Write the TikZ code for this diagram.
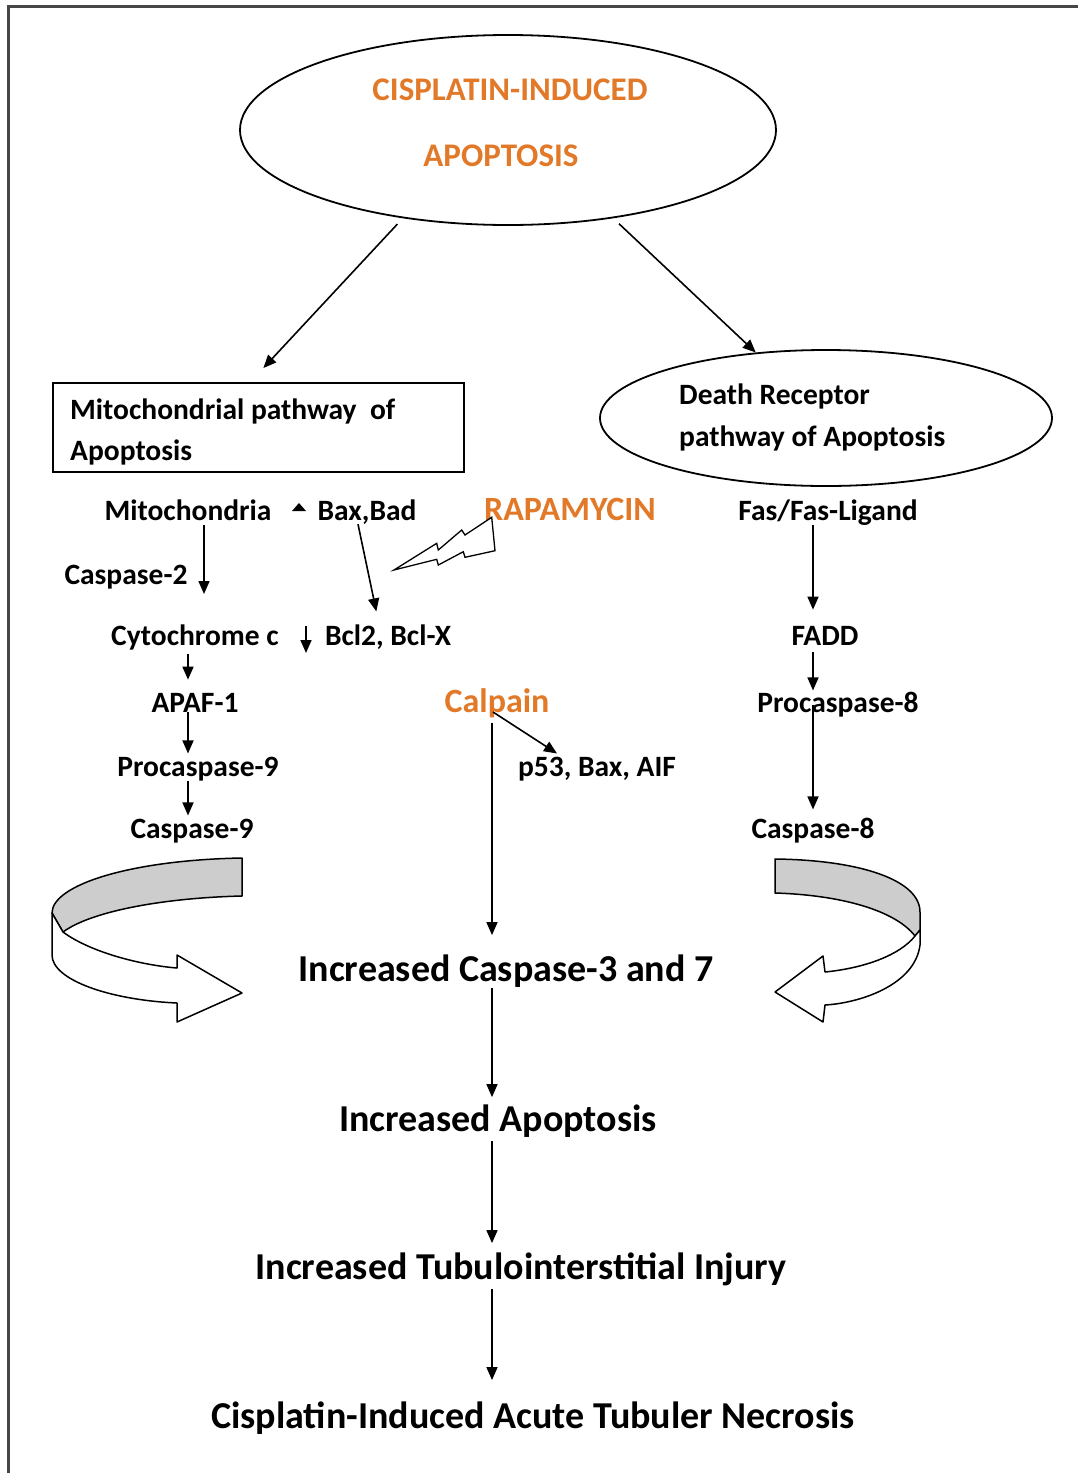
\documentclass[tikz,border=0pt]{standalone}
\usepackage{fontspec}
\setmainfont{Carlito}
\usetikzlibrary{arrows.meta, shapes.geometric, calc}

\definecolor{drugorange}{RGB}{226,121,40}
\definecolor{framegray}{RGB}{70,70,70}
\definecolor{ribbongray}{RGB}{205,205,205}

\begin{document}
\begin{tikzpicture}[
    x=1pt, y=-1pt,
    lbl/.style={font=\fontsize{29.5}{34}\selectfont\bfseries, inner sep=0pt, anchor=base},
    big/.style={font=\fontsize{38}{44}\selectfont\bfseries, inner sep=0pt, anchor=base},
    drug/.style={lbl, text=drugorange, font=\fontsize{34}{40}\selectfont\bfseries},
    titletxt/.style={drug, font=\fontsize{33}{40}\selectfont\bfseries},
    outline/.style={draw, line width=1.8pt},
    arr/.style={-{Triangle[length=13pt, width=11pt]}, line width=1.6pt},
    ribbon/.style={line width=1.5pt, line join=round},
]
\useasboundingbox (0,0) rectangle (1078,1473);

% ── Frame ──
\draw[framegray, line width=3pt] (8,1473) -- (8,6) -- (1078,6);

% ── Title and pathway boxes ──
\node[outline, ellipse, minimum width=536pt, minimum height=190pt] (title) at (508,130) {};
\node[titletxt] (titleA) at (510,100) {CISPLATIN-INDUCED};
\node[titletxt] (titleB) at (501,166) {APOPTOSIS};

\node[outline, rectangle, minimum width=411pt, minimum height=89pt, anchor=north west] (mitobox) at (52,382) {};
\node[lbl, anchor=base west] (mitotxtA) at (70,419) {Mitochondrial pathway\ \ of};
\node[lbl, anchor=base west] (mitotxtB) at (70,460) {Apoptosis};

\node[outline, ellipse, minimum width=452pt, minimum height=136pt] (death) at (826,418) {};
\node[lbl, anchor=base west] (deathtxtA) at (679,404) {Death Receptor};
\node[lbl, anchor=base west] (deathtxtB) at (679,446) {pathway of Apoptosis};

\draw[arr, shorten <=8pt] (title.220) -- ([xshift=5pt, yshift=14pt]mitobox.north);
\draw[arr, shorten <=8pt] (title.320) -- (death.137);

% ── Mitochondrial side ──
\node[lbl] (mito) at (188,520) {Mitochondria};
\node[lbl] (bax) at (367,520) {Bax,Bad};
\node[lbl] (casp2) at (126,584) {Caspase-2};
\node[lbl] (cyto) at (195,645) {Cytochrome c};
\node[lbl] (bcl) at (388,645) {Bcl2, Bcl-X};
\node[lbl] (apaf) at (195,712) {APAF-1};
\node[lbl] (procasp9) at (198,776) {Procaspase-9};
\node[lbl] (casp9) at (192,838) {Caspase-9};

\fill (292,511) -- (306,511) -- (299,503) -- cycle;
\coordinate (m2end) at (204,594);
\coordinate (dntop) at (306,626);
\coordinate (dnend) at (306,653);

\draw[arr, shorten <=5pt] ([xshift=16pt]mito.south) -- (m2end);
\draw[arr, shorten >=13pt] ([xshift=-9pt]bax.south) -- ([xshift=-9pt]bcl.north);
\draw[arr] (dntop) -- (dnend);
\draw[arr, shorten <=4pt, shorten >=13pt] (cyto.south -| mito) -- (apaf.north -| mito);
\draw[arr, shorten >=3pt] (apaf.base -| mito) -- (procasp9.north -| mito);
\draw[arr, shorten >=3pt] (procasp9.south -| mito) -- (casp9.north -| mito);

% ── Rapamycin and calpain ──
\node[drug] (rapa) at (570,520) {RAPAMYCIN};
\node[drug] (calpain) at (497,712) {Calpain};
\node[lbl] (p53) at (597,776) {p53, Bax, AIF};

\draw[line width=1.3pt, line join=miter, fill=white]
    (394,570) -- (436.7,543.3) -- (438.3,550) -- (461.7,530) -- (465,535) -- (491.7,517.3)
    -- (495,550.7) -- (465,557.3) -- (463.3,551.7) -- (438.3,565) -- (436.7,559.3) -- cycle;

\draw[arr] ([xshift=-4pt]calpain.base) -- ([xshift=-40pt, yshift=3pt]p53.north);

% ── Death receptor side ──
\node[lbl] (fas) at (828,520) {Fas/Fas-Ligand};
\node[lbl] (fadd) at (825,645) {FADD};
\node[lbl] (procasp8) at (838,712) {Procaspase-8};
\node[lbl] (casp8) at (813,838) {Caspase-8};

\draw[arr, shorten >=16pt] (fas.south -| casp8) -- (fadd.north -| casp8);
\draw[arr, shorten <=7pt, shorten >=1pt] (fadd.south -| casp8) -- (procasp8.north -| casp8);
\draw[arr, shorten <=-7pt, shorten >=8pt] (procasp8.base -| casp8) -- (casp8.north -| casp8);

% ── Common chain ──
\coordinate (spine) at (492,0);
\node[big] (casp37) at (506,981) {Increased Caspase-3 and 7};
\node[big] (apop) at (498,1131) {Increased Apoptosis};
\node[big] (injury) at (521,1279) {Increased Tubulointerstitial Injury};
\node[big] (atn) at (533,1428) {Cisplatin-Induced Acute Tubuler Necrosis};

\draw[arr, shorten <=5pt, shorten >=19pt] (calpain.south -| spine) -- (casp37.north -| spine);
\draw[arr, shorten <=1pt, shorten >=7pt] (casp37.south -| spine) -- (apop.north -| spine);
\draw[arr, shorten <=4pt, shorten >=9pt] (apop.south -| spine) -- (injury.north -| spine);
\draw[arr, shorten <=3pt, shorten >=21pt] (injury.south -| spine) -- (atn.north -| spine);

% ── Curved ribbon arrows ──
\filldraw[ribbon, fill=ribbongray] (242,858) -- (242,896) .. controls (160,898) and (90,912) .. (63,932)
    -- (52,913) .. controls (52,885) and (130,860) .. (242,858) -- cycle;
\filldraw[ribbon, fill=white] (52,913) -- (63,932) .. controls (90,952) and (140,965) .. (177,968)
    -- (177,955) -- (242,993) -- (177,1022) -- (177,1003)
    .. controls (110,1000) and (52,980) .. (52,955) -- cycle;

\filldraw[ribbon, fill=ribbongray] (775,859) .. controls (860,860) and (920,880) .. (920,912)
    -- (920,930) -- (915,936) .. controls (895,910) and (840,895) .. (775,893) -- cycle;
\filldraw[ribbon, fill=white] (915,936) -- (920,930) -- (920,945)
    .. controls (915,985) and (860,1003) .. (825,1005) -- (823,1022) -- (775,992) -- (823,956)
    -- (825,972) .. controls (865,968) and (900,955) .. (915,936) -- cycle;

\end{tikzpicture}
\end{document}
